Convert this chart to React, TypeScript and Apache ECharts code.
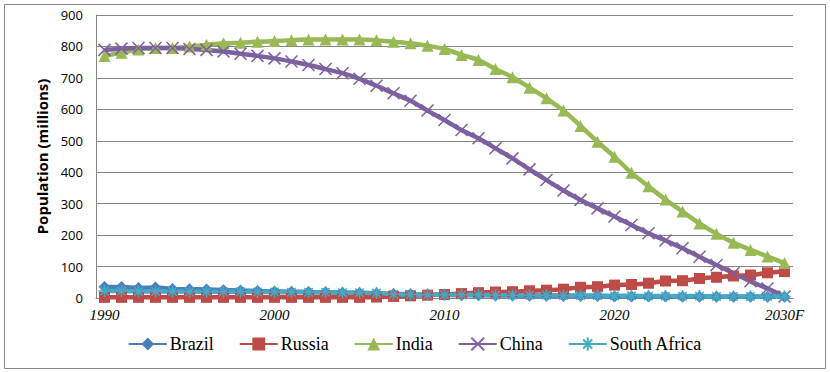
import React, { useEffect, useRef } from "react";
import * as echarts from "echarts";

const years: string[] = [];
for (let y = 1990; y <= 2030; y++) years.push(y === 2030 ? "2030F" : String(y));

const brazil = [35, 35, 32, 33, 29, 28, 27, 25, 24, 22, 21, 20, 19, 18, 17, 16, 14, 13, 12, 11, 10, 9, 9, 8, 8, 7, 7, 6, 6, 6, 5, 5, 5, 5, 4, 4, 4, 4, 4, 4, 4];
const russia = [2, 2, 2, 2, 2, 2, 2, 2, 2, 2, 2, 2, 2, 2, 2, 2, 3, 5, 7, 9, 11, 14, 17, 19, 20, 23, 25, 28, 34, 36, 41, 43, 47, 54, 55, 62, 66, 70, 73, 80, 84];
const india = [770, 780, 790, 795, 795, 800, 805, 810, 812, 815, 817, 820, 822, 822, 822, 822, 820, 815, 810, 802, 792, 773, 757, 728, 702, 669, 635, 596, 547, 497, 449, 398, 355, 313, 275, 237, 204, 176, 153, 132, 111];
const china = [789, 793, 795, 795, 795, 792, 789, 784, 777, 770, 762, 752, 741, 728, 715, 697, 675, 651, 627, 596, 566, 534, 508, 476, 444, 409, 375, 342, 312, 285, 259, 232, 206, 183, 158, 131, 105, 79, 53, 30, 5];
const southAfrica = [22, 22, 21, 21, 21, 20, 20, 20, 20, 19, 19, 18, 18, 18, 17, 17, 16, 12, 11, 10, 10, 10, 10, 9, 9, 9, 9, 8, 8, 8, 7, 7, 6, 6, 6, 6, 5, 5, 5, 5, 5];
const yTicks = [0, 100, 200, 300, 400, 500, 600, 700, 800, 900];

const seriesDefs = [
  { name: "Brazil", data: brazil, color: "#4a7ebb", symbol: "diamond", size: 12, stroke: 0 },
  { name: "Russia", data: russia, color: "#be4b48", symbol: "rect", size: 11, stroke: 0 },
  { name: "India", data: india, color: "#98b954", symbol: "triangle", size: 12, stroke: 0 },
  { name: "China", data: china, color: "#7d60a0", symbol: "path://M0,0L10,10M10,0L0,10", size: 12, stroke: 1.5 },
  { name: "South Africa", data: southAfrica, color: "#46aac5", symbol: "path://M5,0L5,10M0,5L10,5M1.5,1.5L8.5,8.5M8.5,1.5L1.5,8.5", size: 12, stroke: 1.5 },
];

export default function App() {
  const ref = useRef<HTMLDivElement>(null);
  useEffect(() => {
    if (!ref.current) return;
    const chart = echarts.init(ref.current, undefined, { renderer: "svg" });
    chart.setOption({
      animation: false,
      backgroundColor: "#ffffff",
      graphic: [
        {
          type: "rect",
          shape: { x: 4.5, y: 4.5, width: 821, height: 364 },
          style: { fill: "none", stroke: "#878787", lineWidth: 1 },
          silent: true,
        },
      ],
      grid: { left: 96, top: 15, right: 37, bottom: 74, containLabel: false },
      legend: {
        top: 330,
        left: "center",
        itemWidth: 38,
        itemHeight: 16,
        itemGap: 25,
        textStyle: { fontFamily: "Liberation Serif", fontSize: 18, color: "#000", padding: [0, 0, 0, -2] },
        data: seriesDefs.map((s) => s.name),
      },
      xAxis: {
        type: "category",
        data: years,
        boundaryGap: true,
        axisLine: { lineStyle: { color: "#868686", width: 1 } },
        axisTick: { show: false },
        axisLabel: {
          interval: (i: number) => i % 10 === 0,
          fontFamily: "Liberation Serif",
          fontStyle: "italic",
          fontSize: 15,
          color: "#000",
          margin: 9,
        },
      },
      yAxis: {
        type: "value",
        min: 0,
        max: 900,
        interval: 100,
        name: "Population (millions)",
        nameLocation: "middle",
        nameGap: 46,
        nameTextStyle: { fontFamily: "Open Sans", fontWeight: "bold", fontSize: 15, color: "#000" },
        axisLine: { show: true, lineStyle: { color: "#868686", width: 1 } },
        axisTick: { show: false },
        splitLine: { lineStyle: { color: "#868686", width: 1 } },
        axisLabel: {
          fontFamily: "Open Sans",
          fontSize: 13,
          color: "#000",
          margin: 13,
          formatter: (v: number) => (yTicks.includes(v) ? String(v) : ""),
        },
      },
      series: seriesDefs.map((s) => ({
        name: s.name,
        type: "line",
        data: s.data,
        smooth: 0.3,
        symbol: s.symbol,
        symbolSize: s.size,
        showAllSymbol: true,
        lineStyle: { color: s.color, width: 4.5 },
        itemStyle: { color: s.color, borderColor: s.color, borderWidth: s.stroke },
      })),
    });
    return () => chart.dispose();
  }, []);
  return <div ref={ref} style={{ position: "fixed", left: 0, top: 0, width: 830, height: 372 }} />;
}
